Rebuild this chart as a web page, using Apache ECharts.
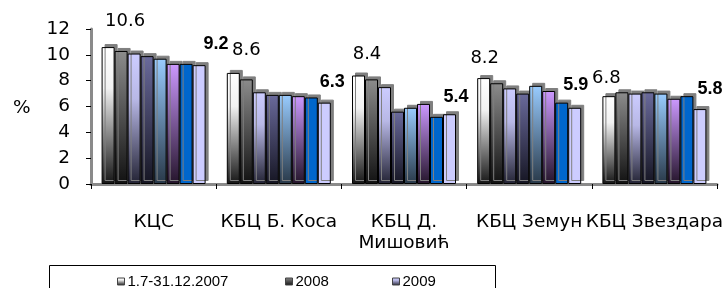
<!DOCTYPE html>
<html><head><meta charset="utf-8">
<script src="https://cdn.jsdelivr.net/npm/echarts@6/dist/echarts.min.js"></script>
<style>html,body{margin:0;padding:0;background:#fff}#c{width:727px;height:288px}</style>
</head><body><div id="c"></div>
<script>
const categories = ['КЦС', 'КБЦ Б. Коса', 'КБЦ Д. Мишовић', 'КБЦ Земун', 'КБЦ Звездара'];
const seriesNames = ['1.7-31.12.2007', '2008', '2009', '2010', '2011', '2012', '2013', '2014'];
const s2007 = [10.6, 8.6, 8.4, 8.2, 6.8];
const s2008 = [10.3, 8.1, 8.1, 7.8, 7.1];
const s2009 = [10.1, 7.1, 7.5, 7.4, 7.0];
const s2010 = [9.9, 6.9, 5.6, 7.0, 7.1];
const s2011 = [9.7, 6.9, 5.9, 7.6, 7.0];
const s2012 = [9.3, 6.8, 6.2, 7.2, 6.6];
const s2013 = [9.3, 6.7, 5.2, 6.3, 6.8];
const s2014 = [9.2, 6.3, 5.4, 5.9, 5.8];
const yTicks = [0, 2, 4, 6, 8, 10, 12];

// label shifts (style only) emulating the 3D perspective of the original
const firstLabelShift = [[17, -11.5], [13, -9], [8.5, -7], [1, -5.5], [-2.5, -3.5]];
const lastLabelShift = [[17, -7.5], [8, -7], [6.5, -3.5], [1, -9], [10, -6.5]];

const values = [s2007, s2008, s2009, s2010, s2011, s2012, s2013, s2014];
function grad(stops) {
  return {type: 'linear', x: 0, y: 0, x2: 0, y2: 1,
    colorStops: stops.map(s => ({offset: s[0], color: s[1]}))};
}
const fills = [
  grad([[0, '#ffffff'], [0.3, '#f2f2f2'], [1, '#151515']]),
  grad([[0, '#8c8c8c'], [1, '#111111']]),
  grad([[0, '#ccccff'], [0.35, '#b8b8e6'], [1, '#222233']]),
  grad([[0, '#6a6a9c'], [1, '#151522']]),
  grad([[0, '#99ccff'], [1, '#283848']]),
  grad([[0, '#cc99ff'], [1, '#24142a']]),
  '#0066cc',
  '#ccccff'
];
const FONT = 'DejaVu Sans';
const series = values.map((v, i) => {
  let data = v;
  if (i === 0 || i === 7) {
    const shifts = i === 0 ? firstLabelShift : lastLabelShift;
    data = v.map((val, k) => ({value: val, label: {offset: shifts[k]}}));
  }
  const s = {
    name: seriesNames[i], type: 'bar', data: data,
    barWidth: 13, barGap: '0%', barCategoryGap: '0%',
    itemStyle: {color: fills[i], borderColor: '#000', borderWidth: 1,
      shadowColor: '#7f7f7f', shadowOffsetX: 3, shadowOffsetY: -3, shadowBlur: 0}
  };
  if (i === 0) {
    s.label = {show: true, position: 'top', fontSize: 18,
      fontFamily: FONT, color: '#000', formatter: p => p.value.toFixed(1)};
  }
  if (i === 7) {
    s.label = {show: true, position: 'top', fontSize: 18,
      fontWeight: 'bold', fontFamily: 'Liberation Sans', color: '#000', formatter: p => p.value.toFixed(1)};
  }
  return s;
});
function legendCol(left, names) {
  return {orient: 'vertical', left: left, top: 274, height: 300, itemGap: 20, data: names,
    icon: 'rect', itemWidth: 7, itemHeight: 7, padding: 0,
    textStyle: {fontFamily: 'Liberation Sans', fontSize: 15, color: '#000', padding: [0, 0, 0, -2]},
    itemStyle: {borderColor: '#444', borderWidth: 1}, selectedMode: false};
}
function wrapLabel(v) {
  if (v.length > 13) {
    const k = v.lastIndexOf(' ');
    return v.slice(0, k) + '\n' + v.slice(k + 1);
  }
  return v;
}
const chart = echarts.init(document.getElementById('c'), null, {renderer: 'canvas'});
chart.setOption({
  animation: false,
  backgroundColor: '#fff',
  grid: {left: 91, right: 10, top: 29, bottom: 104, containLabel: false},
  xAxis: {type: 'category', data: categories,
    axisLine: {lineStyle: {color: '#8a8a8a', width: 3}},
    axisTick: {show: true, length: 5, lineStyle: {color: '#000'}},
    axisLabel: {interval: 0, margin: 28, fontSize: 18.5, fontFamily: FONT, color: '#000',
      lineHeight: 21, formatter: wrapLabel}},
  yAxis: {type: 'value', min: yTicks[0], max: yTicks[yTicks.length - 1], interval: 2,
    splitLine: {show: false},
    axisLine: {show: true, lineStyle: {color: '#8a8a8a', width: 3}},
    axisTick: {show: true, length: 5, lineStyle: {color: '#000'}},
    axisLabel: {margin: 21, fontSize: 18.5, fontFamily: FONT, color: '#000'}},
  legend: [
    legendCol(117, [seriesNames[0], seriesNames[3], seriesNames[6]]),
    legendCol(285, [seriesNames[1], seriesNames[4], seriesNames[7]]),
    legendCol(392, [seriesNames[2], seriesNames[5]])
  ],
  graphic: [
    {type: 'rect', shape: {x: 49.5, y: 265.5, width: 446, height: 40},
      style: {fill: 'none', stroke: '#000', lineWidth: 1}, silent: true, z: 100},
    {type: 'text', left: 13, top: 99, style: {text: '%', fontSize: 18.5, fontFamily: FONT, fill: '#000'}}
  ],
  series: series
});
</script></body></html>
